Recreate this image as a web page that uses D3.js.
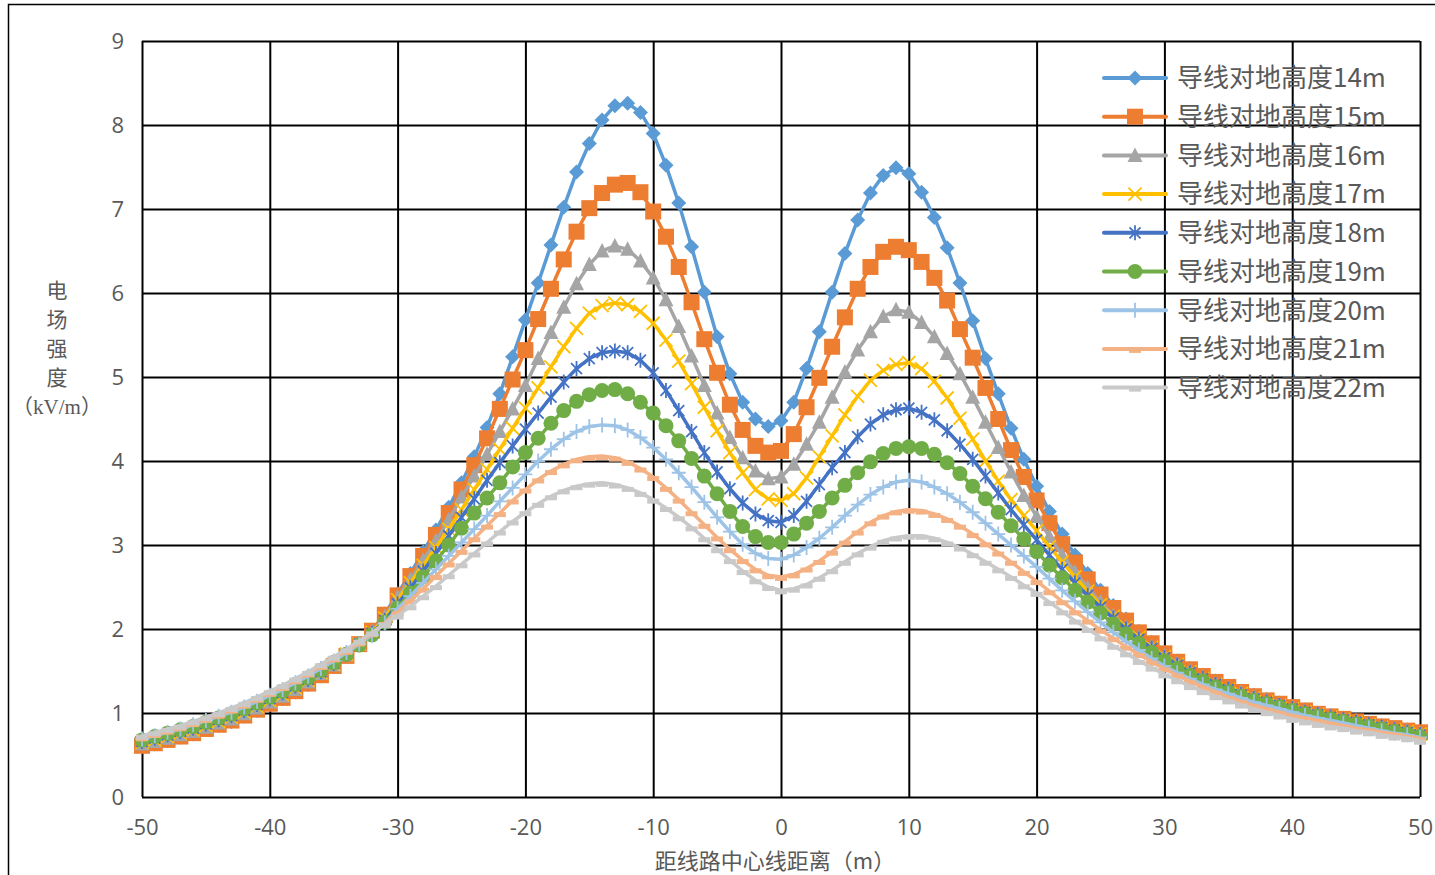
<!DOCTYPE html>
<html><head><meta charset="utf-8">
<script src="https://cdn.jsdelivr.net/npm/d3@7"></script>
<style>body{margin:0;background:#fff;}svg{display:block}</style>
</head><body>
<svg id="c" width="1435" height="875"></svg>
<script>
const distances = d3.range(-50, 51);
const seriesNames = ["导线对地高度14m","导线对地高度15m","导线对地高度16m","导线对地高度17m","导线对地高度18m","导线对地高度19m","导线对地高度20m","导线对地高度21m","导线对地高度22m"];
const h14 = [0.60,0.63,0.67,0.71,0.75,0.80,0.85,0.90,0.96,1.03,1.10,1.17,1.25,1.34,1.44,1.55,1.68,1.82,1.98,2.18,2.42,2.66,2.92,3.18,3.45,3.74,4.05,4.40,4.80,5.24,5.68,6.12,6.57,7.02,7.44,7.78,8.06,8.23,8.26,8.15,7.90,7.52,7.07,6.55,6.01,5.48,5.04,4.70,4.50,4.41,4.48,4.70,5.10,5.54,6.01,6.47,6.87,7.19,7.40,7.49,7.42,7.20,6.90,6.54,6.12,5.67,5.22,4.80,4.39,4.02,3.70,3.40,3.13,2.88,2.66,2.46,2.28,2.12,1.97,1.84,1.72,1.62,1.53,1.45,1.38,1.32,1.26,1.21,1.16,1.12,1.08,1.04,1.00,0.97,0.94,0.91,0.88,0.85,0.82,0.80,0.77];
const h15 = [0.61,0.64,0.68,0.72,0.76,0.81,0.86,0.91,0.97,1.04,1.11,1.18,1.26,1.35,1.45,1.56,1.68,1.82,1.98,2.17,2.40,2.63,2.87,3.12,3.38,3.66,3.95,4.27,4.62,4.97,5.32,5.69,6.05,6.40,6.73,7.01,7.19,7.29,7.31,7.20,6.97,6.67,6.31,5.89,5.45,5.05,4.67,4.37,4.18,4.10,4.12,4.32,4.64,4.99,5.36,5.71,6.05,6.31,6.49,6.55,6.51,6.37,6.18,5.91,5.57,5.23,4.87,4.50,4.13,3.81,3.53,3.26,3.01,2.79,2.59,2.41,2.25,2.10,1.96,1.83,1.71,1.61,1.52,1.44,1.37,1.31,1.25,1.20,1.15,1.11,1.07,1.03,0.99,0.96,0.93,0.90,0.87,0.84,0.82,0.79,0.77];
const h16 = [0.63,0.66,0.70,0.74,0.78,0.83,0.88,0.93,0.99,1.06,1.13,1.20,1.28,1.37,1.47,1.57,1.69,1.82,1.97,2.15,2.38,2.59,2.82,3.05,3.30,3.57,3.82,4.08,4.35,4.62,4.90,5.22,5.53,5.83,6.11,6.34,6.50,6.56,6.52,6.38,6.18,5.92,5.60,5.25,4.90,4.57,4.28,4.04,3.88,3.79,3.81,3.96,4.20,4.46,4.76,5.06,5.32,5.54,5.72,5.80,5.77,5.65,5.48,5.28,5.04,4.76,4.46,4.16,3.87,3.59,3.34,3.10,2.88,2.68,2.49,2.32,2.16,2.02,1.90,1.79,1.68,1.59,1.50,1.42,1.35,1.29,1.24,1.19,1.14,1.10,1.06,1.02,0.99,0.96,0.93,0.90,0.87,0.84,0.81,0.79,0.76];
const h17 = [0.65,0.68,0.72,0.76,0.80,0.85,0.90,0.95,1.01,1.08,1.15,1.22,1.30,1.39,1.48,1.58,1.70,1.82,1.96,2.13,2.35,2.55,2.76,2.97,3.19,3.42,3.66,3.90,4.14,4.39,4.63,4.87,5.12,5.36,5.58,5.76,5.85,5.88,5.86,5.78,5.64,5.44,5.19,4.92,4.64,4.36,4.10,3.86,3.66,3.55,3.53,3.61,3.80,4.05,4.30,4.55,4.77,4.96,5.08,5.15,5.17,5.10,4.95,4.75,4.51,4.26,4.00,3.76,3.54,3.35,3.17,2.98,2.80,2.62,2.45,2.29,2.15,2.02,1.90,1.78,1.67,1.58,1.49,1.41,1.34,1.28,1.23,1.18,1.13,1.09,1.05,1.01,0.98,0.95,0.92,0.89,0.86,0.83,0.80,0.78,0.75];
const h18 = [0.66,0.70,0.74,0.78,0.82,0.87,0.92,0.97,1.03,1.10,1.17,1.24,1.32,1.40,1.49,1.59,1.70,1.82,1.95,2.10,2.30,2.49,2.69,2.90,3.11,3.33,3.55,3.77,3.98,4.18,4.38,4.57,4.76,4.94,5.10,5.22,5.29,5.31,5.29,5.20,5.05,4.84,4.60,4.35,4.10,3.87,3.67,3.50,3.37,3.29,3.27,3.35,3.52,3.72,3.92,4.10,4.29,4.44,4.55,4.61,4.63,4.58,4.49,4.36,4.20,4.02,3.82,3.62,3.42,3.24,3.06,2.88,2.71,2.55,2.40,2.26,2.13,2.00,1.88,1.77,1.66,1.57,1.48,1.41,1.34,1.28,1.22,1.17,1.13,1.09,1.05,1.01,0.98,0.95,0.92,0.89,0.86,0.83,0.80,0.77,0.74];
const h19 = [0.68,0.72,0.76,0.80,0.84,0.89,0.94,0.99,1.05,1.12,1.19,1.26,1.34,1.42,1.51,1.60,1.70,1.81,1.93,2.08,2.25,2.43,2.62,2.81,3.00,3.20,3.38,3.56,3.74,3.93,4.10,4.27,4.45,4.60,4.71,4.79,4.84,4.85,4.80,4.70,4.57,4.42,4.24,4.03,3.82,3.61,3.40,3.22,3.10,3.03,3.03,3.13,3.26,3.40,3.56,3.71,3.86,3.99,4.09,4.15,4.17,4.15,4.08,3.98,3.85,3.70,3.55,3.39,3.23,3.07,2.92,2.76,2.61,2.46,2.32,2.19,2.06,1.94,1.83,1.72,1.62,1.53,1.45,1.38,1.31,1.25,1.20,1.15,1.11,1.07,1.03,0.99,0.96,0.93,0.90,0.87,0.84,0.81,0.78,0.75,0.72];
const h20 = [0.69,0.73,0.77,0.81,0.86,0.91,0.96,1.01,1.07,1.14,1.21,1.28,1.36,1.44,1.53,1.62,1.72,1.82,1.93,2.07,2.24,2.39,2.55,2.71,2.87,3.03,3.19,3.35,3.52,3.68,3.84,4.00,4.14,4.26,4.35,4.41,4.43,4.42,4.37,4.28,4.16,4.02,3.86,3.69,3.51,3.33,3.16,3.01,2.90,2.84,2.83,2.88,2.97,3.08,3.21,3.35,3.48,3.60,3.69,3.75,3.77,3.75,3.69,3.61,3.51,3.39,3.26,3.13,3.00,2.87,2.74,2.60,2.46,2.33,2.20,2.08,1.96,1.85,1.75,1.65,1.56,1.48,1.41,1.34,1.28,1.23,1.18,1.13,1.09,1.05,1.01,0.97,0.94,0.91,0.88,0.85,0.82,0.79,0.76,0.74,0.71];
const h21 = [0.71,0.75,0.79,0.83,0.88,0.93,0.98,1.04,1.10,1.17,1.24,1.31,1.39,1.47,1.56,1.65,1.74,1.84,1.95,2.07,2.20,2.34,2.48,2.63,2.78,2.93,3.08,3.23,3.38,3.53,3.66,3.78,3.88,3.96,4.02,4.05,4.06,4.04,3.99,3.91,3.81,3.68,3.54,3.39,3.24,3.09,2.95,2.82,2.71,2.64,2.62,2.65,2.72,2.81,2.92,3.04,3.16,3.27,3.35,3.40,3.42,3.41,3.37,3.31,3.23,3.13,3.02,2.91,2.80,2.68,2.57,2.45,2.33,2.21,2.10,1.99,1.89,1.79,1.70,1.61,1.53,1.45,1.38,1.31,1.25,1.19,1.14,1.09,1.05,1.01,0.97,0.94,0.91,0.88,0.85,0.82,0.80,0.77,0.75,0.72,0.70];
const h22 = [0.73,0.77,0.81,0.85,0.90,0.95,1.00,1.06,1.12,1.19,1.26,1.33,1.41,1.49,1.58,1.67,1.76,1.86,1.96,2.06,2.16,2.27,2.39,2.51,2.64,2.77,2.90,3.03,3.16,3.28,3.39,3.49,3.58,3.65,3.70,3.73,3.74,3.72,3.68,3.62,3.54,3.44,3.33,3.21,3.08,2.95,2.82,2.69,2.58,2.50,2.46,2.48,2.53,2.61,2.70,2.80,2.90,2.98,3.05,3.09,3.11,3.11,3.08,3.03,2.97,2.89,2.80,2.71,2.62,2.52,2.43,2.32,2.21,2.10,2.00,1.90,1.80,1.71,1.62,1.54,1.46,1.39,1.32,1.26,1.20,1.15,1.10,1.05,1.01,0.97,0.93,0.90,0.87,0.84,0.82,0.79,0.77,0.74,0.72,0.70,0.67];
const xTicks = [-50,-40,-30,-20,-10,0,10,20,30,40,50];
const yTicks = [0,1,2,3,4,5,6,7,8,9];

const seriesValues = [h14,h15,h16,h17,h18,h19,h20,h21,h22];
const colors = ["#5B9BD5","#ED7D31","#A5A5A5","#FFC000","#4472C4","#70AD47","#9DC3E6","#F4B183","#C9C9C9"];
const markerTypes = ["diamond","square","triangle","x","star","circle","plus","dash","dash"];

const svg = d3.select("#c");
const L = 142, R = 1420, T = 41, B = 797;
const x = d3.scaleLinear().domain([-50, 50]).range([L, R]);
const y = d3.scaleLinear().domain([0, 9]).range([B, T]);

svg.append("rect").attr("x",8.5).attr("y",4.5).attr("width",1450).attr("height",900)
  .attr("fill","#fff").attr("stroke","#000").attr("stroke-width",1.5);

const gy = svg.append("g").attr("transform",`translate(${L},0)`)
  .call(d3.axisLeft(y).tickValues(yTicks).tickSize(-(R-L)).tickPadding(18).tickFormat(d => String(d)));
const gx = svg.append("g").attr("transform",`translate(0,${B})`)
  .call(d3.axisBottom(x).tickValues(xTicks).tickSize(-(B-T)).tickPadding(22).tickFormat(d => String(d)));
[gy,gx].forEach(g=>{
  g.select(".domain").remove();
  g.selectAll(".tick line").attr("stroke","#000").attr("stroke-width",2);
  g.selectAll(".tick text").attr("fill","#595959").style("font-size","22px")
    .style("font-family","'Open Sans','Noto Sans',sans-serif");
});

function markerPath(type){
  switch(type){
    case "diamond": return "M0,-7.5L7.5,0L0,7.5L-7.5,0Z";
    case "square": return "M-8,-8H8V8H-8Z";
    case "triangle": return "M0,-8L7.5,6.5L-7.5,6.5Z";
    case "x": return "M-6.5,-6.5L6.5,6.5M-6.5,6.5L6.5,-6.5";
    case "star": return "M-5.5,-5.5L5.5,5.5M-5.5,5.5L5.5,-5.5M0,-7.5L0,7.5";
    case "circle": return "M-7.5,0A7.5,7.5 0 1,0 7.5,0A7.5,7.5 0 1,0 -7.5,0Z";
    case "plus": return "M-7,0L7,0M0,-7.5L0,7.5";
    case "dash": return "M-6,-1H6V4H-6Z";
  }
}
const stroked = t => t==="x"||t==="star"||t==="plus";

const line = d3.line().x(d=>x(d[0])).y(d=>y(d[1]));
const plot = svg.append("g");
seriesValues.forEach((vals,i)=>{
  const pts = distances.map((d,j)=>[d, vals[j]]);
  const g = plot.append("g");
  g.append("path").datum(pts).attr("d",line).attr("fill","none")
    .attr("stroke",colors[i]).attr("stroke-width",3.5).attr("stroke-linejoin","round");
  g.selectAll("path.m").data(pts).join("path").attr("class","m")
    .attr("transform",d=>`translate(${x(d[0])},${y(d[1])})`)
    .attr("d",markerPath(markerTypes[i]))
    .attr("fill",stroked(markerTypes[i])?"none":colors[i])
    .attr("stroke",stroked(markerTypes[i])?colors[i]:"none")
    .attr("stroke-width",1.8);
});

const lg = svg.append("g");
seriesNames.forEach((name,i)=>{
  const cy = 78 + i*38.7;
  lg.append("line").attr("x1",1104).attr("x2",1166).attr("y1",cy).attr("y2",cy)
    .attr("stroke",colors[i]).attr("stroke-width",4).attr("stroke-linecap","round");
  lg.append("path").attr("transform",`translate(1135,${cy})`).attr("d",markerPath(markerTypes[i]))
    .attr("fill",stroked(markerTypes[i])?"none":colors[i])
    .attr("stroke",stroked(markerTypes[i])?colors[i]:"none").attr("stroke-width",1.8);
  lg.append("text").attr("x",1177).attr("y",cy).attr("dy","0.36em")
    .attr("fill","#595959").style("font-size","26px")
    .style("font-family","'Noto Sans CJK SC','Noto Sans',sans-serif").text(name);
});

const yTitle = ["电","场","强","度"];
yTitle.forEach((c,i)=>{
  svg.append("text").attr("x",57).attr("y",290+i*29).attr("dy","0.36em").attr("text-anchor","middle")
    .attr("fill","#595959").style("font-size","21px").style("font-family","'Noto Sans CJK SC',sans-serif").text(c);
});
svg.append("text").attr("x",57).attr("y",406).attr("dy","0.36em").attr("text-anchor","middle")
  .attr("fill","#595959").style("font-size","21px").style("font-family","'Liberation Serif','Noto Sans CJK SC',serif").text("（kV/m）");
svg.append("text").attr("x",775).attr("y",861).attr("dy","0.36em").attr("text-anchor","middle")
  .attr("fill","#595959").style("font-size","22px").style("font-family","'Noto Sans CJK SC',sans-serif").text("距线路中心线距离（m）");
</script>
</body></html>
